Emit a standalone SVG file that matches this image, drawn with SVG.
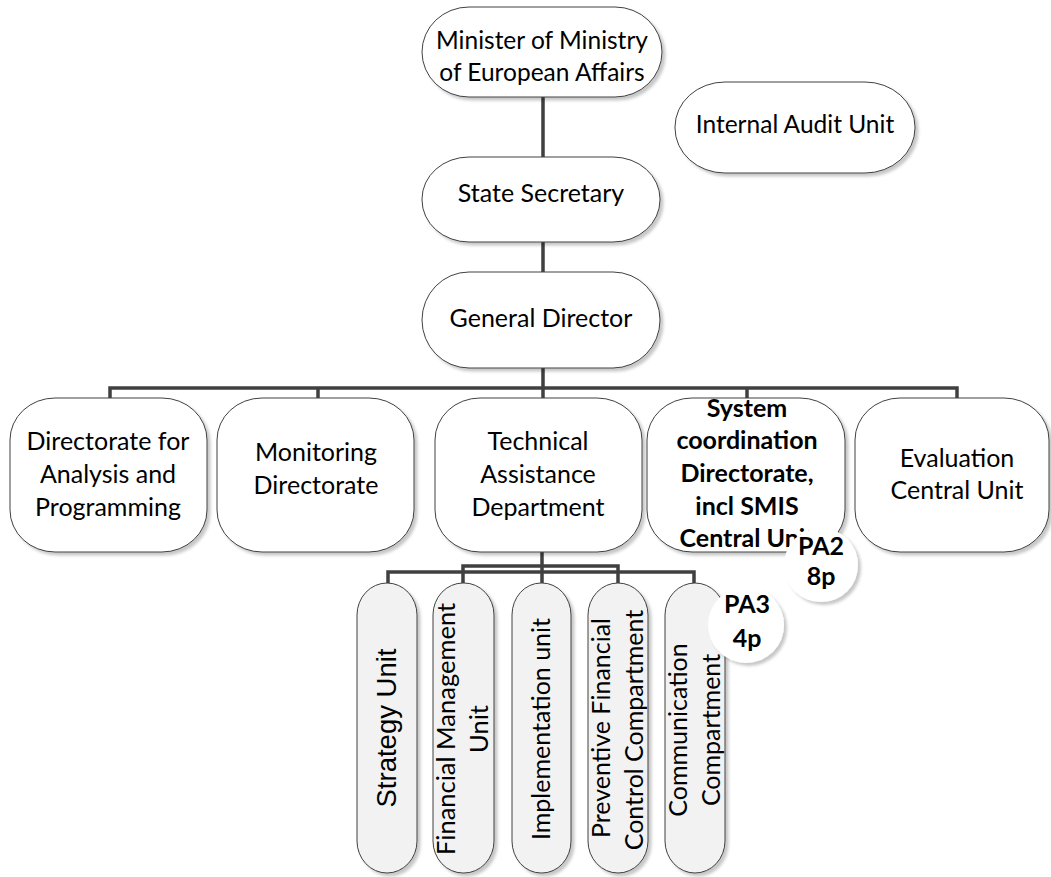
<svg xmlns="http://www.w3.org/2000/svg" width="1051" height="877" viewBox="0 0 1051 877">
  <defs>
    <filter id="shadow" x="-10%" y="-10%" width="130%" height="130%">
      <feDropShadow dx="3" dy="3" stdDeviation="1.5" flood-color="#000" flood-opacity="0.22"/>
    </filter>
    <style>
      .box { fill: #ffffff; stroke: #404040; stroke-width: 1; filter: url(#shadow); }
      .pill { fill: #f2f2f2; stroke: #404040; stroke-width: 1; filter: url(#shadow); }
      .badge { fill: #ffffff; stroke: none; filter: url(#shadow); }
      .lbl { font-family: "Lato", "Carlito", "Liberation Sans", sans-serif; font-size: 25px; fill: #000; text-anchor: middle; }
      .bold { font-weight: bold; }
      .arial { font-family: "Liberation Sans", Arial, sans-serif; font-size: 27.5px; }
      .conn { fill: none; stroke: #404040; stroke-width: 3.5; }
    </style>
  </defs>
  <rect width="1051" height="877" fill="#ffffff"/>

  <!-- reporting lines -->
  <g id="connectors">
    <path class="conn" d="M543 97 V157 M543 242 V272 M543 368 V388"/>
    <path class="conn" d="M110 398 V388 H957 V398 M318 388 V398 M543 388 V398 M747 388 V398"/>
    <path class="conn" d="M542 552 V583 M463 583 V566 H618 V583 M388 583 V572 H694 V583"/>
  </g>

  <!-- top management -->
  <g id="minister">
    <rect class="box" x="422" y="7" width="240" height="90" rx="47" ry="45"/>
    <text class="lbl" x="542" y="49" style="font-size:24.5px">Minister of Ministry</text>
    <text class="lbl" x="542" y="81" style="font-size:24.5px">of European Affairs</text>
  </g>
  <g id="internal-audit">
    <rect class="box" x="675" y="82" width="240" height="91" rx="50" ry="45"/>
    <text class="lbl" x="795" y="133" style="font-size:24.5px">Internal Audit Unit</text>
  </g>
  <g id="state-secretary">
    <rect class="box" x="422" y="157" width="238" height="85" rx="47" ry="42"/>
    <text class="lbl" x="541" y="202">State Secretary</text>
  </g>
  <g id="general-director">
    <rect class="box" x="422" y="272" width="238" height="96" rx="47" ry="48"/>
    <text class="lbl" x="541" y="327">General Director</text>
  </g>

  <!-- directorates -->
  <g id="analysis-programming">
    <rect class="box" x="10" y="398" width="197" height="154" rx="45" ry="42"/>
    <text class="lbl" x="108" y="450">Directorate for</text>
    <text class="lbl" x="108" y="483">Analysis and</text>
    <text class="lbl" x="108" y="516">Programming</text>
  </g>
  <g id="monitoring">
    <rect class="box" x="217" y="398" width="197" height="154" rx="45" ry="42"/>
    <text class="lbl" x="316" y="461">Monitoring</text>
    <text class="lbl" x="316" y="494">Directorate</text>
  </g>
  <g id="technical-assistance">
    <rect class="box" x="435" y="398" width="207" height="154" rx="45" ry="42"/>
    <text class="lbl" x="538" y="450">Technical</text>
    <text class="lbl" x="538" y="483">Assistance</text>
    <text class="lbl" x="538" y="516">Department</text>
  </g>
  <g id="system-coordination">
    <rect class="box" x="647" y="398" width="198" height="154" rx="45" ry="42"/>
    <text class="lbl bold" x="747" y="417">System</text>
    <text class="lbl bold" x="747" y="449">coordination</text>
    <text class="lbl bold" x="747" y="482">Directorate,</text>
    <text class="lbl bold" x="747" y="515">incl SMIS</text>
    <text class="lbl bold" x="747" y="547">Central Unit</text>
  </g>
  <g id="evaluation">
    <rect class="box" x="855" y="398" width="194" height="154" rx="45" ry="42"/>
    <text class="lbl" x="957" y="467">Evaluation</text>
    <text class="lbl" x="957" y="499">Central Unit</text>
  </g>

  <!-- units of the technical assistance department -->
  <g id="strategy-unit">
    <rect class="pill" x="357" y="583" width="60" height="290" rx="30" ry="32"/>
    <text class="lbl arial" transform="translate(396 728) rotate(-90)">Strategy Unit</text>
  </g>
  <g id="financial-management">
    <rect class="pill" x="433" y="583" width="61" height="290" rx="30" ry="32"/>
    <text class="lbl" transform="translate(455 729) rotate(-90)" style="font-size:25.5px">Financial Management</text>
    <text class="lbl" transform="translate(488 729) rotate(-90)" style="font-size:25.5px">Unit</text>
  </g>
  <g id="implementation">
    <rect class="pill" x="512" y="583" width="59" height="290" rx="29" ry="32"/>
    <text class="lbl" transform="translate(550 729) rotate(-90)">Implementation unit</text>
  </g>
  <g id="preventive-control">
    <rect class="pill" x="588" y="583" width="60" height="290" rx="30" ry="32"/>
    <text class="lbl" transform="translate(610 728) rotate(-90)">Preventive Financial</text>
    <text class="lbl" transform="translate(643 730) rotate(-90)">Control Compartment</text>
  </g>
  <g id="communication">
    <rect class="pill" x="665" y="583" width="60" height="290" rx="30" ry="32"/>
    <text class="lbl" transform="translate(687 730) rotate(-90)">Communication</text>
    <text class="lbl" transform="translate(720 730) rotate(-90)">Compartment</text>
  </g>

  <!-- staffing badges -->
  <g id="pa2">
    <circle class="badge" cx="821" cy="565" r="37"/>
    <text class="lbl bold" x="821" y="555">PA2</text>
    <text class="lbl bold" x="821" y="585">8p</text>
  </g>
  <g id="pa3">
    <circle class="badge" cx="746" cy="625" r="38"/>
    <text class="lbl bold" x="747" y="613">PA3</text>
    <text class="lbl bold" x="747" y="647">4p</text>
  </g>
</svg>
